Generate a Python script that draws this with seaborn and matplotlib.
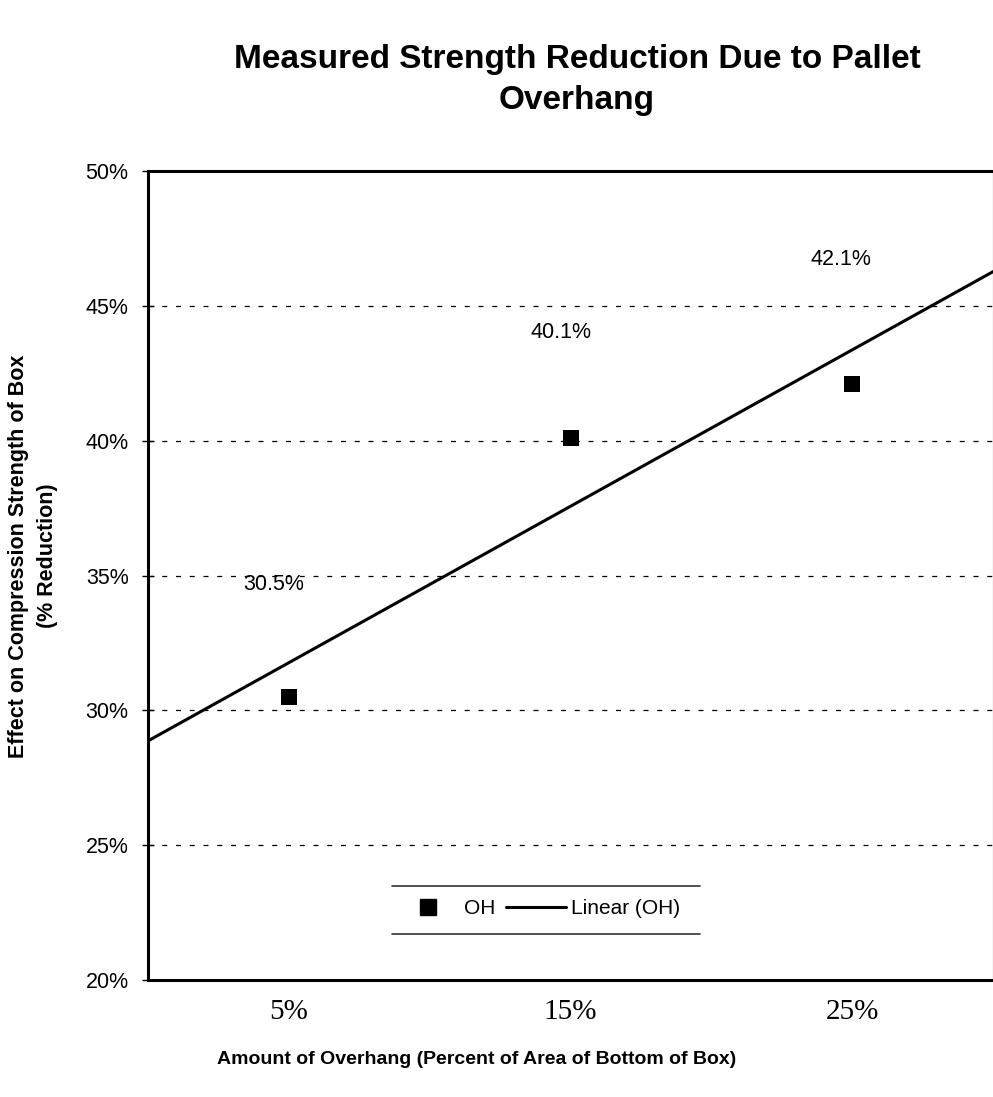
import numpy as np
import pandas as pd
import matplotlib
matplotlib.use("Agg")
import matplotlib.pyplot as plt
from matplotlib.lines import Line2D
from matplotlib.ticker import FuncFormatter
import seaborn as sns

# Measured values
overhang = ["5%", "15%", "25%"]
reduction = [30.5, 40.1, 42.1]
y_ticks = [20, 25, 30, 35, 40, 45, 50]

title = "Measured Strength Reduction Due to Pallet\nOverhang"
x_label = "Amount of Overhang (Percent of Area of Bottom of Box)"
y_label = "Effect on Compression Strength of Box\n(% Reduction)"

sns.set_style("white")
plt.rcParams["font.family"] = ["Liberation Sans", "DejaVu Sans"]
plt.rcParams.update({"text.color": "black", "axes.labelcolor": "black",
                     "xtick.color": "black", "ytick.color": "black"})

df = pd.DataFrame({"pos": np.arange(1, len(overhang) + 1), "value": reduction})

fig = plt.figure(figsize=(9.93, 10.97), dpi=100)
ax = fig.add_axes([148 / 993, 117 / 1097, 845 / 993, 809 / 1097])
ax.set_xlim(0.5, len(overhang) + 0.5)
ax.set_ylim(y_ticks[0], y_ticks[-1])

# dashed horizontal gridlines
for yv in y_ticks[1:-1]:
    ax.axhline(yv, color="black", lw=0.9, ls=(0, (4, 7)), zorder=1)

# linear trendline across the full plot width
sns.regplot(data=df, x="pos", y="value", ax=ax, scatter=False, ci=None,
            truncate=False, color="black", line_kws={"lw": 2.2, "zorder": 3})

# measured points
sns.scatterplot(data=df, x="pos", y="value", ax=ax, marker="s", s=120,
                color="black", edgecolor="black", linewidth=0, zorder=4)

# value labels
label_offsets = [(-11, 81), (-7, 76), (-8, 90)]
for xp, yv, off in zip(df["pos"], df["value"], label_offsets):
    ax.annotate(f"{yv:.1f}%", (xp, yv), xytext=off, textcoords="offset points",
                ha="center", va="center", fontsize=15.5, color="black")

ax.set_xticks(df["pos"])
ax.set_xticklabels(overhang, fontfamily="Liberation Serif", fontsize=21,
                   color="black")
ax.set_yticks(y_ticks)
ax.yaxis.set_major_formatter(FuncFormatter(lambda v, p: f"{v:.0f}%"))
ax.tick_params(axis="y", labelsize=15.5, direction="inout", length=8,
               width=1, pad=10, left=True, labelcolor="black")
ax.tick_params(axis="x", length=0, pad=14)
ax.set_xlabel("")
ax.set_ylabel("")

for side in ["left", "top", "bottom"]:
    ax.spines[side].set_color("black")
    ax.spines[side].set_linewidth(2.2)
ax.spines["right"].set_color("#555555")
ax.spines["right"].set_linewidth(0.8)

# legend with rules above and below
handles = [
    Line2D([], [], marker="s", color="black", ls="none", markersize=11),
    Line2D([], [], color="black", lw=2.2),
]
ax.legend(handles, ["OH", "Linear (OH)"], ncol=2, frameon=False,
          loc="center", bbox_to_anchor=(0.463, 0.088), fontsize=15,
          handlelength=2.9, handletextpad=0.25, columnspacing=0.5,
          labelcolor="black")
for yy in (0.116, 0.057):
    ax.plot([0.289, 0.653], [yy, yy], transform=ax.transAxes,
            color="#333333", lw=1.2, clip_on=False)

fig.text(577 / 993, 1 - 80 / 1097, title, ha="center", va="center",
         fontsize=24, fontweight="bold", linespacing=1.45, color="black")
fig.text(477 / 993, 1 - 1060 / 1097, x_label, ha="center", va="center",
         fontsize=14, fontweight="bold", color="black")
fig.text(33 / 993, 1 - 556 / 1097, y_label, ha="center", va="center",
         rotation=90, fontsize=15.5, fontweight="bold", linespacing=1.5,
         color="black")

fig.savefig("out.png", dpi=100)
